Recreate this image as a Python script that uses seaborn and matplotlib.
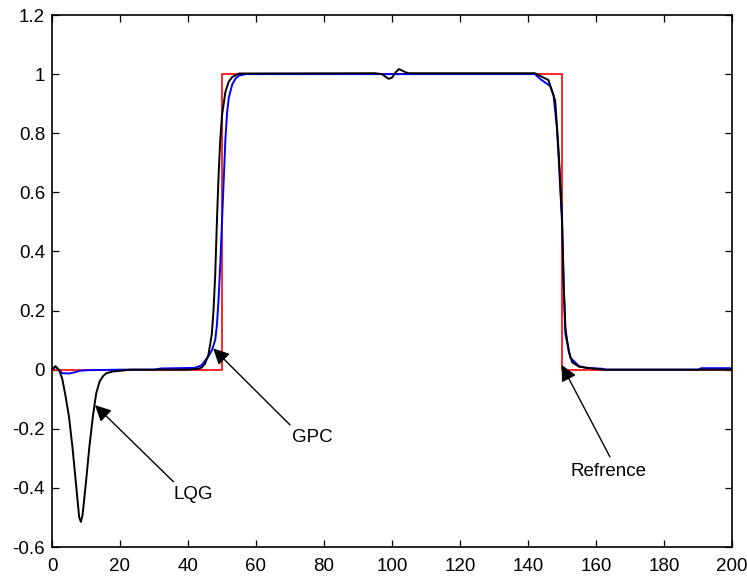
import matplotlib
matplotlib.use("Agg")
import matplotlib.pyplot as plt
import seaborn as sns
import pandas as pd
from matplotlib.ticker import FixedLocator, FuncFormatter

# Reference (step) signal
ref_t = [0, 50, 50, 150, 150, 200]
ref_y = [0, 0, 1, 1, 0, 0]

# GPC response (blue)
gpc_t = [0, 1, 2, 3, 5, 7, 8, 10, 15, 20, 30, 32, 42, 44, 45, 46, 47, 48, 48.5, 49,
         49.5, 50, 50.5, 51, 51.5, 52, 53, 54, 55, 57, 100, 142, 144, 146.5, 147.5,
         148.5, 149, 150, 150.5, 151, 152.5, 155, 157, 162, 163, 190, 191, 200]
gpc_y = [0, 0.01, 0.0, -0.012, -0.013, -0.008, -0.004, -0.002, -0.001, 0, 0, 0.004, 0.006,
         0.015, 0.03, 0.045, 0.065, 0.10, 0.15, 0.24, 0.36, 0.50, 0.64, 0.78, 0.87, 0.92,
         0.965, 0.985, 0.995, 1.0, 1.0, 1.0, 0.98, 0.96, 0.93, 0.82, 0.72, 0.5, 0.28, 0.12,
         0.04, 0.012, 0.006, 0.003, 0.0, 0.0, 0.005, 0.005]

# LQG response (black)
lqg_t = [0, 1, 2, 3, 4, 5, 6, 7, 8, 8.5, 9, 10, 11, 12, 13, 14, 15, 16, 18, 20, 23,
         40, 43, 44, 45, 46, 47, 47.5, 48, 48.5, 49, 49.5, 50, 51, 52, 53, 55, 95, 97,
         98, 99, 100, 101, 102, 103, 104, 105, 142, 146, 148, 149, 150, 150.5, 151,
         152, 153, 155, 162, 200]
lqg_y = [0, 0.012, 0.0, -0.03, -0.09, -0.16, -0.26, -0.38, -0.50, -0.515, -0.49, -0.38,
         -0.26, -0.16, -0.08, -0.04, -0.022, -0.012, -0.006, -0.004, 0.0,
         0.0, 0.003, 0.007, 0.02, 0.05, 0.12, 0.20, 0.32, 0.50, 0.66, 0.78, 0.86, 0.94,
         0.975, 0.99, 1.002, 1.003, 1.0, 0.992, 0.984, 0.988, 1.005, 1.017, 1.012, 1.006,
         1.003, 1.003, 0.98, 0.91, 0.74, 0.52, 0.29, 0.14, 0.06, 0.025, 0.01, 0.0, 0.0]

x_ticks = [0, 20, 40, 60, 80, 100, 120, 140, 160, 180, 200]
y_ticks = [-0.6, -0.4, -0.2, 0, 0.2, 0.4, 0.6, 0.8, 1, 1.2]

sns.set_style("ticks")
plt.rcParams["font.family"] = ["Liberation Sans", "DejaVu Sans"]
plt.rcParams["axes.unicode_minus"] = False
plt.rcParams["text.color"] = "black"

fig = plt.figure(figsize=(7.47, 5.78), dpi=100)
ax = fig.add_axes([52 / 747, 1 - 547 / 578, 680 / 747, 532 / 578])

ref_df = pd.DataFrame({"t": ref_t, "y": ref_y})
gpc_df = pd.DataFrame({"t": gpc_t, "y": gpc_y})
lqg_df = pd.DataFrame({"t": lqg_t, "y": lqg_y})

sns.lineplot(data=ref_df, x="t", y="y", ax=ax, color="#ff0000", lw=1.2,
             estimator=None, sort=False)
sns.lineplot(data=gpc_df, x="t", y="y", ax=ax, color="#0000ff", lw=1.4,
             estimator=None, sort=False)
sns.lineplot(data=lqg_df, x="t", y="y", ax=ax, color="#000000", lw=1.4,
             estimator=None, sort=False)

ax.set_xlim(0, 200)
ax.set_ylim(-0.6, 1.2)
ax.xaxis.set_major_locator(FixedLocator(x_ticks))
ax.yaxis.set_major_locator(FixedLocator(y_ticks))
ax.xaxis.set_major_formatter(FuncFormatter(lambda v, p: f"{v:g}"))
ax.yaxis.set_major_formatter(FuncFormatter(lambda v, p: f"{v:g}"))
ax.set_xlabel("")
ax.set_ylabel("")
for s in ax.spines.values():
    s.set_visible(True)
    s.set_linewidth(1.2)
    s.set_color("black")
ax.tick_params(direction="in", length=5, width=0.9, top=True, right=True,
               labelsize=13.5, colors="black")
ax.tick_params(axis="x", pad=8)
ax.tick_params(axis="y", pad=5)

arrow = dict(arrowstyle="-|>", color="black", lw=1.0, mutation_scale=24,
             shrinkA=0, shrinkB=0)
ax.annotate("", xy=(12.65, -0.12), xytext=(35.7, -0.379), arrowprops=arrow)
ax.text(35.6, -0.424, "LQG", fontsize=13.5, ha="left", va="center", color="black")
ax.annotate("", xy=(47.4, 0.072), xytext=(70.0, -0.187), arrowprops=arrow)
ax.text(70.5, -0.23, "GPC", fontsize=13.5, ha="left", va="center", color="black")
ax.annotate("", xy=(149.9, 0.016), xytext=(164.1, -0.295), arrowprops=arrow)
ax.text(163.8, -0.345, "Refrence", fontsize=13.5, ha="center", va="center", color="black")

fig.savefig("out.png", dpi=100)
